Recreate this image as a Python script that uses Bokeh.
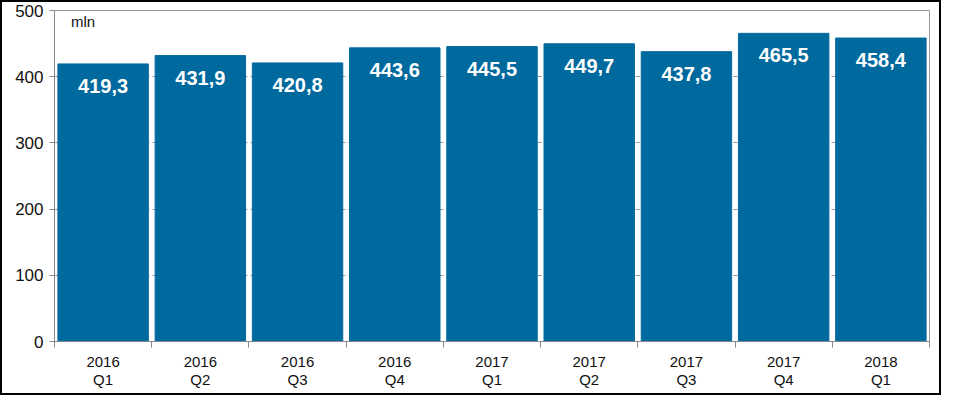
from bokeh.plotting import figure
from bokeh.models import ColumnDataSource, FixedTicker, Range1d, Label
from bokeh.embed import file_html
from bokeh.resources import INLINE
from bokeh.core.properties import value

categories = ["2016\nQ1", "2016\nQ2", "2016\nQ3", "2016\nQ4", "2017\nQ1", "2017\nQ2", "2017\nQ3", "2017\nQ4", "2018\nQ1"]
values = [419.3, 431.9, 420.8, 443.6, 445.5, 449.7, 437.8, 465.5, 458.4]
y_ticks = [0, 100, 200, 300, 400, 500]

xs = [i + 0.5 for i in range(len(categories))]
labels = [f"{v:.1f}".replace(".", ",") for v in values]
src = ColumnDataSource(dict(x=xs, top=values, label=labels))

p = figure(width=941, height=395, output_backend="svg", toolbar_location=None,
           x_range=Range1d(0, len(categories)), y_range=Range1d(0, 500),
           min_border_left=52, min_border_right=14, min_border_top=8, min_border_bottom=56)
p.styles = {"border": "2px solid black"}

p.vbar(x="x", top="top", width=0.93, bottom=0, source=src, color="#00699E")
p.text(x="x", y="top", text="label", source=src, text_color="white",
       text_font=value("Liberation Sans"), text_font_style="bold", text_font_size="20px",
       text_align="center", text_baseline="middle", y_offset=22)

p.add_layout(Label(x=0.17, y=484, text="mln", text_font="Liberation Sans",
                   text_font_size="15px", text_color="#111", text_baseline="middle"))

p.outline_line_color = "#999999"
p.xgrid.grid_line_color = None
p.ygrid.grid_line_color = "#999999"
p.ygrid.grid_line_dash = "4 3"
p.ygrid.ticker = FixedTicker(ticks=y_ticks)

p.xaxis.ticker = FixedTicker(ticks=xs, minor_ticks=list(range(len(categories) + 1)))
p.xaxis.major_label_overrides = {x: c for x, c in zip(xs, categories)}
p.xaxis.major_tick_line_color = None
p.xaxis.major_tick_out = 0
p.xaxis.major_tick_in = 0
p.xaxis.minor_tick_out = 6
p.xaxis.minor_tick_in = 0
p.xaxis.minor_tick_line_color = "#888888"
p.xaxis.axis_line_color = "#888888"
p.xaxis.major_label_text_font = "Liberation Sans"
p.xaxis.major_label_text_font_size = "15px"
p.xaxis.major_label_text_line_height = 1.1
p.xaxis.major_label_text_color = "#111111"
p.xaxis.major_label_standoff = 5

p.yaxis.ticker = FixedTicker(ticks=y_ticks)
p.yaxis.minor_tick_line_color = None
p.yaxis.major_tick_out = 5
p.yaxis.major_tick_in = 0
p.yaxis.major_tick_line_color = "#888888"
p.yaxis.axis_line_color = "#888888"
p.yaxis.major_label_text_font = "Liberation Sans"
p.yaxis.major_label_text_font_size = "17px"
p.yaxis.major_label_text_color = "#111111"
p.yaxis.major_label_standoff = 6

open("out.html", "w").write(file_html(p, INLINE))
